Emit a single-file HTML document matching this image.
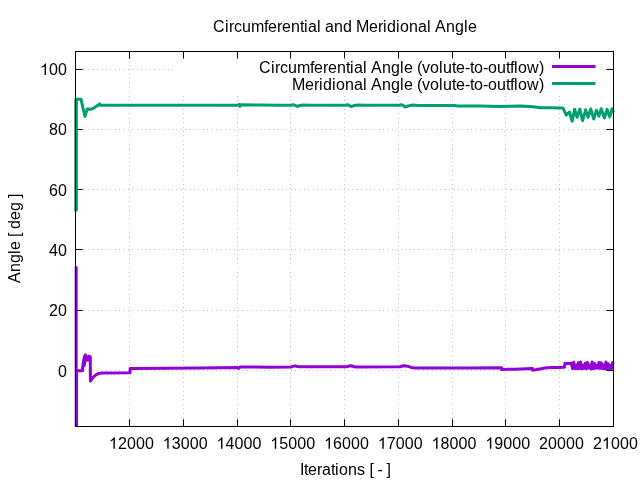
<!DOCTYPE html><html><head><meta charset="utf-8"><title>Circumferential and Meridional Angle</title>
<style>html,body{margin:0;padding:0;background:#fff;overflow:hidden}svg{display:block;will-change:transform}text{font-family:"Liberation Sans",sans-serif;font-size:16px;fill:#000}</style></head><body>
<svg width="640" height="480" viewBox="0 0 640 480">
<rect width="640" height="480" fill="#fff"/>
<g stroke="#000" stroke-width="1" stroke-dasharray="0.4 4" stroke-opacity="0.65" fill="none">
<line x1="75.5" y1="69.5" x2="613.5" y2="69.5"/>
<line x1="75.5" y1="129.5" x2="613.5" y2="129.5"/>
<line x1="75.5" y1="189.5" x2="613.5" y2="189.5"/>
<line x1="75.5" y1="249.5" x2="613.5" y2="249.5"/>
<line x1="75.5" y1="310.5" x2="613.5" y2="310.5"/>
<line x1="75.5" y1="370.5" x2="613.5" y2="370.5"/>
<line x1="129.5" y1="426.5" x2="129.5" y2="51.5"/>
<line x1="183.5" y1="426.5" x2="183.5" y2="51.5"/>
<line x1="237.5" y1="426.5" x2="237.5" y2="51.5"/>
<line x1="290.5" y1="426.5" x2="290.5" y2="51.5"/>
<line x1="344.5" y1="426.5" x2="344.5" y2="51.5"/>
<line x1="398.5" y1="426.5" x2="398.5" y2="51.5"/>
<line x1="452.5" y1="426.5" x2="452.5" y2="51.5"/>
<line x1="505.5" y1="426.5" x2="505.5" y2="51.5"/>
<line x1="559.5" y1="426.5" x2="559.5" y2="51.5"/>
</g>
<g stroke="#000" stroke-width="1" fill="none">
<path d="M75.5 69.5h7.2M613.5 69.5h-7.2"/>
<path d="M75.5 129.5h7.2M613.5 129.5h-7.2"/>
<path d="M75.5 189.5h7.2M613.5 189.5h-7.2"/>
<path d="M75.5 249.5h7.2M613.5 249.5h-7.2"/>
<path d="M75.5 310.5h7.2M613.5 310.5h-7.2"/>
<path d="M75.5 370.5h7.2M613.5 370.5h-7.2"/>
<path d="M129.5 426.5v-7.2M129.5 51.5v7.2"/>
<path d="M183.5 426.5v-7.2M183.5 51.5v7.2"/>
<path d="M237.5 426.5v-7.2M237.5 51.5v7.2"/>
<path d="M290.5 426.5v-7.2M290.5 51.5v7.2"/>
<path d="M344.5 426.5v-7.2M344.5 51.5v7.2"/>
<path d="M398.5 426.5v-7.2M398.5 51.5v7.2"/>
<path d="M452.5 426.5v-7.2M452.5 51.5v7.2"/>
<path d="M505.5 426.5v-7.2M505.5 51.5v7.2"/>
<path d="M559.5 426.5v-7.2M559.5 51.5v7.2"/>
<path d="M613.5 426.5v-7.2M613.5 51.5v7.2"/>
</g>
<rect x="174" y="58.7" width="427.5" height="35.8" fill="#fff"/>
<clipPath id="c"><rect x="74" y="50" width="540.6" height="376.5"/></clipPath>
<g clip-path="url(#c)" fill="none" stroke-width="3" stroke-linejoin="round" stroke-linecap="butt">
<polyline stroke="#9400d3" points="76.2,266.3 76.2,430.0 76.5,430.0 76.5,370.8 82.4,370.8 83.0,364.0 84.5,356.5 85.4,354.9 85.0,358.0 84.2,365.4 85.2,359.0 86.1,356.5 86.0,360.0 86.8,357.3 87.6,360.2 88.3,356.6 89.2,356.2 90.3,356.8 90.4,381.0 93.0,377.4 96.0,374.8 99.0,373.4 102.0,372.9 130.1,372.8 130.1,368.4 200.0,367.9 238.0,367.6 238.8,368.3 239.8,366.9 270.0,367.2 291.0,367.0 293.0,366.4 295.0,365.9 297.5,366.5 300.0,366.8 347.0,366.8 349.0,366.0 350.8,365.7 353.0,366.3 355.0,366.9 400.0,366.8 402.0,366.0 404.5,365.8 407.5,366.2 411.0,367.4 415.0,367.9 470.0,367.9 501.5,367.7 501.5,369.4 515.0,369.3 532.5,368.6 532.5,370.3 536.0,369.6 540.0,368.9 545.0,368.0 552.0,367.6 558.0,367.4 563.0,367.3 564.5,367.2 564.9,363.5 570.3,363.5 571.4,363.3 572.6,368.6 573.7,362.2 574.9,368.5 576.0,365.2 577.2,368.6 578.3,362.7 579.5,368.6 580.6,362.1 581.8,368.8 582.9,365.4 584.1,368.4 585.2,363.2 586.4,368.8 587.5,362.5 588.7,368.1 589.8,365.2 591.0,369.0 592.1,361.9 593.3,368.7 594.4,363.4 595.6,368.1 596.7,365.4 597.9,368.2 599.0,362.4 600.2,368.3 601.3,362.7 602.5,368.5 603.6,365.0 604.8,368.9 605.9,362.0 607.1,368.7 608.2,363.8 609.4,368.7 610.5,365.5 611.7,368.4 612.8,362.6 613.6,364.3"/>
<polyline stroke="#009e73" points="75.8,211.5 75.8,99.2 76.4,99.2 76.4,210.1 76.4,99.2 81.0,99.2 83.0,108.0 85.0,116.4 87.3,109.0 91.5,109.3 95.0,107.2 99.0,104.6 99.7,103.8 100.2,105.2 238.5,105.2 239.2,104.4 240.0,106.3 240.8,104.8 260.0,105.0 280.0,105.2 292.0,105.2 293.2,104.7 294.5,105.2 297.3,106.4 300.0,105.5 303.0,105.0 310.0,105.2 346.0,105.2 347.3,104.7 349.0,105.2 351.2,106.6 354.0,105.6 358.0,105.0 365.0,105.2 400.0,105.2 401.5,104.7 403.0,105.3 405.0,107.0 408.0,106.0 412.0,105.1 418.0,105.4 455.0,105.5 457.5,106.1 480.0,106.0 500.0,106.5 510.0,106.2 520.0,106.0 530.0,106.4 535.0,107.0 540.0,107.7 550.0,107.8 560.0,108.0 563.0,108.0 566.2,115.2 569.5,112.0 572.2,121.3 574.6,109.2 577.1,117.4 579.8,109.2 582.6,120.7 585.6,109.8 588.0,117.4 590.7,109.0 593.8,119.0 596.5,110.3 598.9,116.3 601.2,108.7 604.4,118.0 607.1,109.4 609.8,116.9 612.1,108.7 613.8,112.5"/>
</g>
<line x1="552" y1="66.5" x2="595.5" y2="66.5" stroke="#9400d3" stroke-width="3"/>
<line x1="552" y1="83.5" x2="595.5" y2="83.5" stroke="#009e73" stroke-width="3"/>
<text x="258.9 270.9 274.9 279.9 287.9 296.9 309.9 313.9 322.9 327.9 336.9 345.9 349.9 353.9 362.9 366.9 370.9 381.9 390.9 399.9 403.9 412.9 416.9 421.9 429.9 438.9 442.9 451.9 455.9 464.9 469.9 473.9 482.9 487.9 496.9 505.9 509.9 513.9 517.9 526.9 538.9" y="72.5">Circumferential Angle (volute-to-outflow)</text>
<text x="291.9 304.9 313.9 318.9 322.9 331.9 335.9 344.9 353.9 362.9 366.9 370.9 381.9 390.9 399.9 403.9 412.9 416.9 421.9 429.9 438.9 442.9 451.9 455.9 464.9 469.9 473.9 482.9 487.9 496.9 505.9 509.9 513.9 517.9 526.9 538.9" y="89.5">Meridional Angle (volute-to-outflow)</text>
<rect x="75.5" y="51.5" width="538.0" height="375.0" stroke="#000" stroke-width="1" fill="none"/>
<path transform="translate(40.00,75.10) scale(0.0078125,-0.0078125)" d="M763 0H583V1147Q518 1085 412.5 1023Q307 961 223 930V1104Q374 1175 487 1276Q600 1377 647 1472H763Z"/><text x="49.0 58.0" y="75.1">00</text>
<text x="49.0 58.0" y="135.3">80</text>
<text x="49.0 58.0" y="196.1">60</text>
<text x="49.0 58.0" y="256.1">40</text>
<text x="49.0 58.0" y="316.1">20</text>
<text x="58.0" y="377.1">0</text>
<path transform="translate(108.90,448.80) scale(0.0078125,-0.0078125)" d="M763 0H583V1147Q518 1085 412.5 1023Q307 961 223 930V1104Q374 1175 487 1276Q600 1377 647 1472H763Z"/><text x="117.9 126.9 135.9 144.9" y="448.8">2000</text>
<path transform="translate(162.68,448.80) scale(0.0078125,-0.0078125)" d="M763 0H583V1147Q518 1085 412.5 1023Q307 961 223 930V1104Q374 1175 487 1276Q600 1377 647 1472H763Z"/><text x="171.7 180.7 189.7 198.7" y="448.8">3000</text>
<path transform="translate(216.46,448.80) scale(0.0078125,-0.0078125)" d="M763 0H583V1147Q518 1085 412.5 1023Q307 961 223 930V1104Q374 1175 487 1276Q600 1377 647 1472H763Z"/><text x="225.5 234.5 243.5 252.5" y="448.8">4000</text>
<path transform="translate(270.23,448.80) scale(0.0078125,-0.0078125)" d="M763 0H583V1147Q518 1085 412.5 1023Q307 961 223 930V1104Q374 1175 487 1276Q600 1377 647 1472H763Z"/><text x="279.2 288.2 297.2 306.2" y="448.8">5000</text>
<path transform="translate(324.01,448.80) scale(0.0078125,-0.0078125)" d="M763 0H583V1147Q518 1085 412.5 1023Q307 961 223 930V1104Q374 1175 487 1276Q600 1377 647 1472H763Z"/><text x="333.0 342.0 351.0 360.0" y="448.8">6000</text>
<path transform="translate(377.79,448.80) scale(0.0078125,-0.0078125)" d="M763 0H583V1147Q518 1085 412.5 1023Q307 961 223 930V1104Q374 1175 487 1276Q600 1377 647 1472H763Z"/><text x="386.8 395.8 404.8 413.8" y="448.8">7000</text>
<path transform="translate(431.57,448.80) scale(0.0078125,-0.0078125)" d="M763 0H583V1147Q518 1085 412.5 1023Q307 961 223 930V1104Q374 1175 487 1276Q600 1377 647 1472H763Z"/><text x="440.6 449.6 458.6 467.6" y="448.8">8000</text>
<path transform="translate(485.34,448.80) scale(0.0078125,-0.0078125)" d="M763 0H583V1147Q518 1085 412.5 1023Q307 961 223 930V1104Q374 1175 487 1276Q600 1377 647 1472H763Z"/><text x="494.3 503.3 512.3 521.3" y="448.8">9000</text>
<text x="539.1 548.1 557.1 566.1 575.1" y="448.8">20000</text>
<path transform="translate(601.90,448.80) scale(0.0078125,-0.0078125)" d="M763 0H583V1147Q518 1085 412.5 1023Q307 961 223 930V1104Q374 1175 487 1276Q600 1377 647 1472H763Z"/><text x="592.9 610.9 619.9 628.9" y="448.8">2000</text>
<text x="213.0 225.0 229.0 234.0 242.0 251.0 264.0 268.0 277.0 282.0 291.0 300.0 304.0 308.0 317.0 321.0 325.0 334.0 343.0 352.0 356.0 369.0 378.0 383.0 387.0 396.0 400.0 409.0 418.0 427.0 431.0 435.0 446.0 455.0 464.0 468.0" y="32.0">Circumferential and Meridional Angle</text>
<text x="300.1 304.1 308.1 317.1 322.1 331.1 335.1 339.1 348.1 357.1" y="475.0">Iterations</text>
<text x="369.6 373.6 377.6 382.6 386.6" y="475.0">[ - ]</text>
<text x="-44.5 -33.5 -24.5 -15.5 -11.5 -2.5 1.5 5.5 9.5 18.5 27.5 36.5 40.5" y="0.0" transform="translate(19.5,238.5) rotate(-90)">Angle [ deg ]</text>
</svg></body></html>
